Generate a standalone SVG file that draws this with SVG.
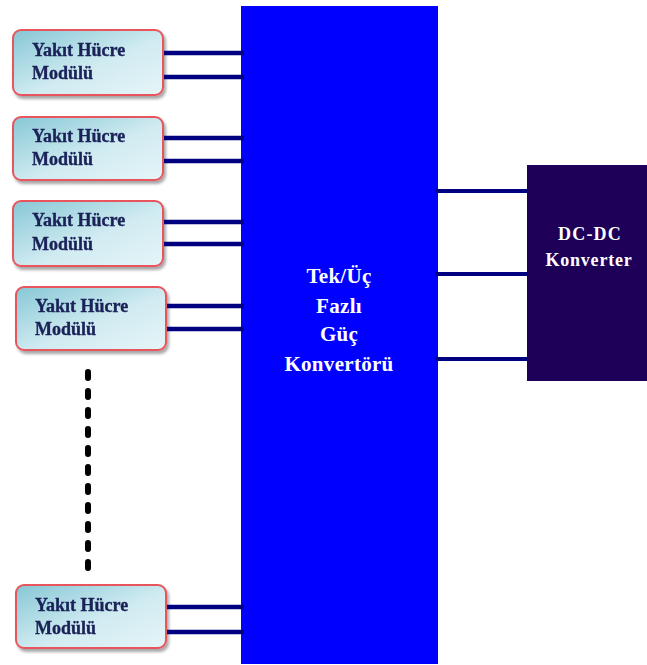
<svg xmlns="http://www.w3.org/2000/svg" width="647" height="665" viewBox="0 0 647 665">
<defs>
<linearGradient id="modGrad" x1="0" y1="0" x2="1" y2="1">
<stop offset="0" stop-color="#86c7d5"/>
<stop offset="0.55" stop-color="#d0ebf1"/>
<stop offset="1" stop-color="#e6f5f8"/>
</linearGradient>
<filter id="sh" x="-10%" y="-10%" width="125%" height="130%">
<feGaussianBlur in="SourceAlpha" stdDeviation="1.5"/>
<feOffset dx="2" dy="3" result="b"/>
<feComponentTransfer><feFuncA type="linear" slope="0.35"/></feComponentTransfer>
<feMerge><feMergeNode/><feMergeNode in="SourceGraphic"/></feMerge>
</filter>
</defs>
<style>
.mod{fill:url(#modGrad);stroke:#e8545c;stroke-width:2;}
.mt{font-family:"Liberation Serif","Times New Roman",serif;font-weight:bold;font-size:18px;fill:#1a2258;stroke:#1a2258;stroke-width:0.35;}
.wt{font-family:"Liberation Serif","Times New Roman",serif;font-weight:bold;fill:#ffffff;text-anchor:middle;}
.c{stroke:#000080;stroke-width:4.5;fill:none;}
.c2{stroke:#000080;stroke-width:4;fill:none;}
</style>
<rect width="647" height="665" fill="#ffffff"/>
<g id="main">
<rect x="241" y="6" width="197" height="658" fill="#0000ff"/>
<text class="wt" font-size="21" letter-spacing="0.3" x="339" y="283">Tek/Üç</text>
<text class="wt" font-size="21" letter-spacing="0.3" x="339" y="313">Fazlı</text>
<text class="wt" font-size="21" letter-spacing="0.3" x="339" y="341">Güç</text>
<text class="wt" font-size="21" letter-spacing="0.3" x="339" y="371">Konvertörü</text>
</g>
<g id="dcdc">
<rect x="527" y="165" width="120" height="216" fill="#1e0058"/>
<text class="wt" font-size="18" letter-spacing="1.2" x="590" y="240">DC-DC</text>
<text class="wt" font-size="18" letter-spacing="0.8" x="589" y="266">Konverter</text>
</g>
<g id="m1" filter="url(#sh)">
<rect class="mod" x="13" y="30" width="150" height="65" rx="8"/>
<text class="mt" x="32" y="56">Yakıt Hücre</text>
<text class="mt" x="32" y="79">Modülü</text>
</g>
<g id="m2" filter="url(#sh)">
<rect class="mod" x="13" y="117" width="150" height="63" rx="8"/>
<text class="mt" x="32" y="142">Yakıt Hücre</text>
<text class="mt" x="32" y="165">Modülü</text>
</g>
<g id="m3" filter="url(#sh)">
<rect class="mod" x="13" y="201" width="150" height="65" rx="8"/>
<text class="mt" x="32" y="226">Yakıt Hücre</text>
<text class="mt" x="32" y="250">Modülü</text>
</g>
<g id="m4" filter="url(#sh)">
<rect class="mod" x="16" y="287" width="150" height="63" rx="8"/>
<text class="mt" x="35" y="312">Yakıt Hücre</text>
<text class="mt" x="35" y="335">Modülü</text>
</g>
<g id="m5" filter="url(#sh)">
<rect class="mod" x="16" y="585" width="150" height="63" rx="8"/>
<text class="mt" x="35" y="611">Yakıt Hücre</text>
<text class="mt" x="35" y="634">Modülü</text>
</g>
<g id="connectors">
<line class="c" x1="164" y1="53" x2="244" y2="53"/>
<line class="c" x1="164" y1="77" x2="244" y2="77"/>
<line class="c" x1="164" y1="138" x2="244" y2="138"/>
<line class="c" x1="164" y1="161" x2="244" y2="161"/>
<line class="c" x1="164" y1="222" x2="244" y2="222"/>
<line class="c" x1="164" y1="244" x2="244" y2="244"/>
<line class="c" x1="167" y1="306" x2="244" y2="306"/>
<line class="c" x1="167" y1="329" x2="244" y2="329"/>
<line class="c" x1="167" y1="607" x2="244" y2="607"/>
<line class="c" x1="167" y1="632" x2="244" y2="632"/>
<line class="c2" x1="435" y1="191" x2="527" y2="191"/>
<line class="c2" x1="435" y1="274" x2="527" y2="274"/>
<line class="c2" x1="435" y1="359" x2="527" y2="359"/>
<line x1="88" y1="372" x2="88" y2="568" stroke="#000000" stroke-width="6" stroke-linecap="round" stroke-dasharray="6 13"/>
</g>
</svg>
